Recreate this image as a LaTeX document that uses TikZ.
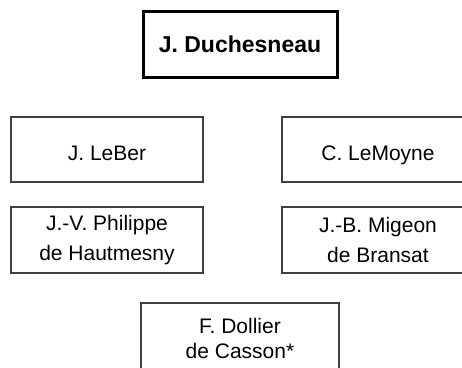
\documentclass[tikz,border=0pt]{standalone}
\usepackage{fontspec}
\setmainfont{Liberation Sans}
\usetikzlibrary{positioning}

\begin{document}
\begin{tikzpicture}[
    x=1pt,
    y=-1pt,
    every node/.style={font=\fontsize{21}{26}\selectfont, align=center, inner sep=0pt},
    member/.style={draw=black!75, line width=1.3pt, minimum width=192pt, minimum height=65pt},
    oneline/.style={member, text height=21pt, text depth=0pt},
    twoline/.style={member, minimum height=66pt, font=\fontsize{21}{30}\selectfont},
    head/.style={draw=black, line width=3pt, minimum width=194pt, minimum height=66pt, font=\fontsize{23}{26}\selectfont\bfseries}
]
    \clip (0,0) rectangle (462,367);
    \fill[white] (0,0) rectangle (462,367);

    \node[head] (duch) at (240,44) {J. Duchesneau};

    \node[oneline] (leber) at (107,149.5) {J. LeBer};
    \node[oneline] (lemoyne) at (378,149.5) {C. LeMoyne};

    \node[twoline] (philippe) at (107,240) {J.-V. Philippe\\de Hautmesny};
    \node[twoline] (migeon) at (378,240) {J.-B. Migeon\\de Bransat};

    \node[member, minimum width=198pt, minimum height=70pt, font=\fontsize{21}{25}\selectfont] (dollier) at (240,338) {F. Dollier\\de Casson*};
\end{tikzpicture}
\end{document}
